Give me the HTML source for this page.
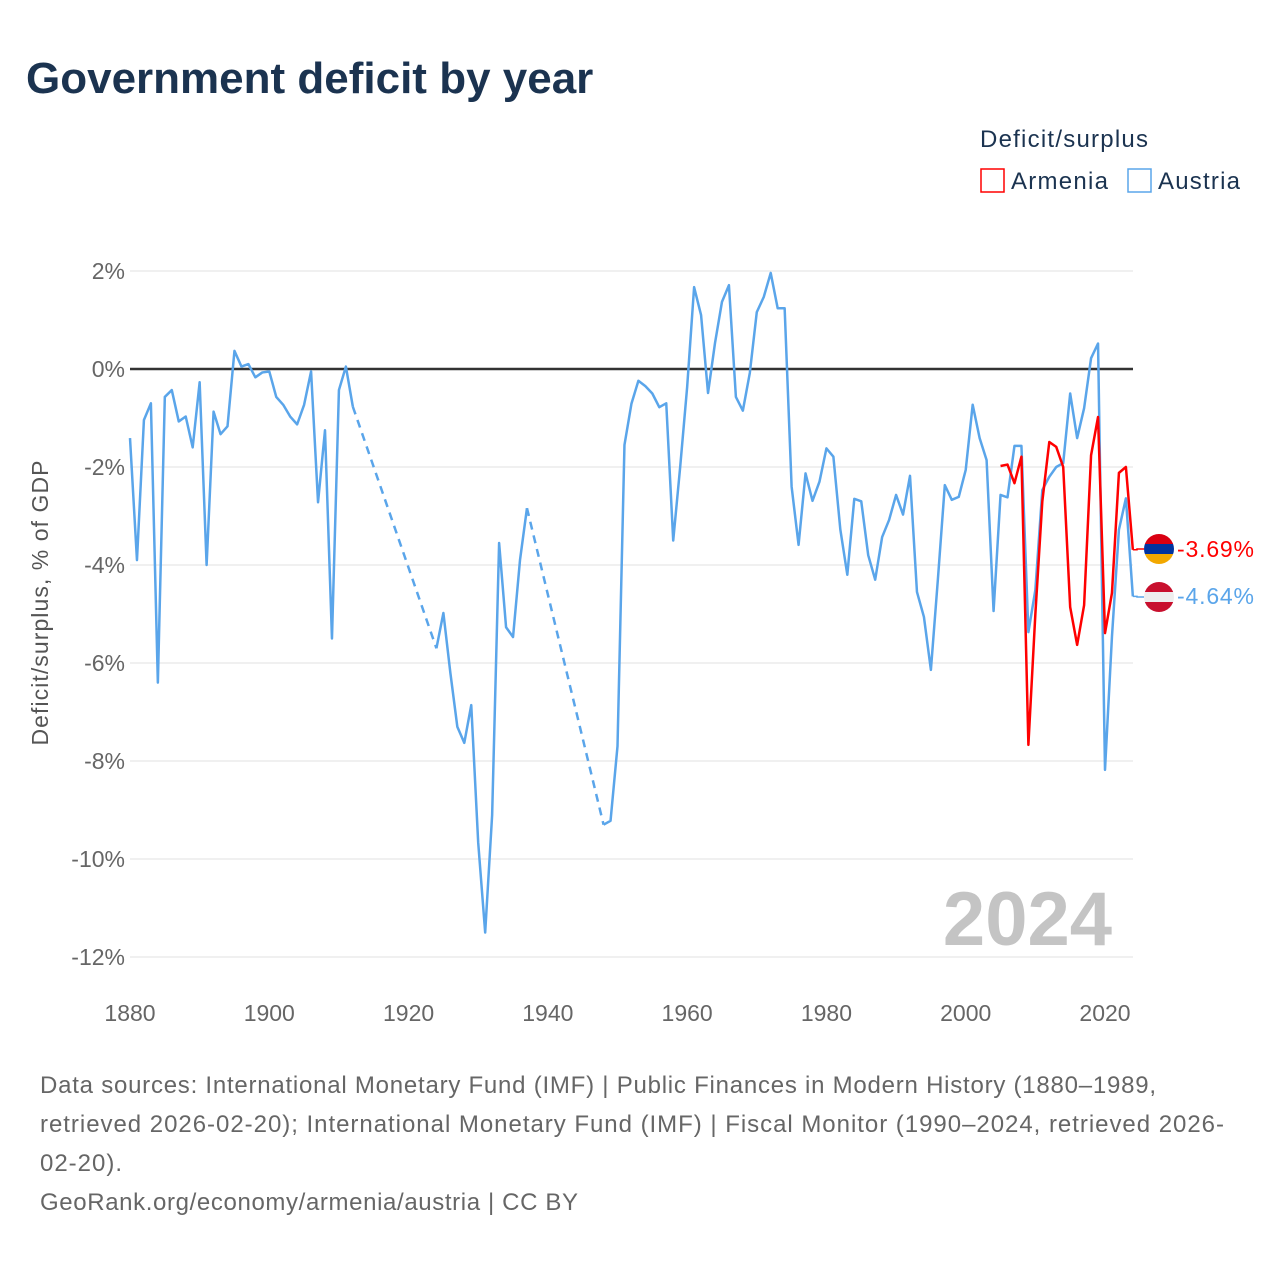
<!DOCTYPE html>
<html><head><meta charset="utf-8"><style>
body{margin:0;background:#fff;font-family:"Liberation Sans",sans-serif;}
svg text{font-family:"Liberation Sans",sans-serif;}
</style></head><body>
<svg id="chart" width="1280" height="1280" xmlns="http://www.w3.org/2000/svg">
<rect width="1280" height="1280" fill="#fff"/>
<text x="26" y="93" font-size="44" font-weight="bold" fill="#1b3350">Government deficit by year</text>
<text x="980" y="147" font-size="24" fill="#1b3350" textLength="168">Deficit/surplus</text>
<g><rect x="981" y="169" width="23" height="23" fill="none" stroke="#f00" stroke-width="1.5"/><text x="1011" y="189" font-size="24" fill="#1b3350" textLength="97">Armenia</text></g>
<g><rect x="1128" y="169" width="23" height="23" fill="none" stroke="#5aa5ea" stroke-width="1.5"/><text x="1158" y="189" font-size="24" fill="#1b3350" textLength="82">Austria</text></g>
<text transform="translate(48,603) rotate(-90)" text-anchor="middle" font-size="23" fill="#555" textLength="285">Deficit/surplus, % of GDP</text>
<g id="grid"></g>
<text x="1112" y="945" text-anchor="end" font-size="76" font-weight="bold" fill="#c4c4c4">2024</text>
<g id="series"></g>
<g>
<clipPath id="ca"><circle cx="1159" cy="549" r="15"/></clipPath>
<g clip-path="url(#ca)"><rect x="1144" y="534" width="30" height="10" fill="#d90012"/><rect x="1144" y="544" width="30" height="10" fill="#0033a0"/><rect x="1144" y="554" width="30" height="10" fill="#f2a800"/></g></g>
<g>
<clipPath id="cb"><circle cx="1159" cy="597" r="15"/></clipPath>
<g clip-path="url(#cb)"><rect x="1144" y="582" width="30" height="10" fill="#c8102e"/><rect x="1144" y="592" width="30" height="10" fill="#eee"/><rect x="1144" y="602" width="30" height="10" fill="#c8102e"/></g></g>
<text x="1177" y="557" font-size="23" fill="#f00" textLength="77">-3.69%</text>
<text x="1177" y="604" font-size="23" fill="#5aa5ea" textLength="77">-4.64%</text>
<g font-size="24" fill="#666">
<text x="40" y="1093" textLength="1116">Data sources: International Monetary Fund (IMF) | Public Finances in Modern History (1880–1989,</text>
<text x="40" y="1132" textLength="1184">retrieved 2026-02-20); International Monetary Fund (IMF) | Fiscal Monitor (1990–2024, retrieved 2026-</text>
<text x="40" y="1171" textLength="82">02-20).</text>
<text x="40" y="1210" textLength="538">GeoRank.org/economy/armenia/austria | CC BY</text>
</g>
</svg>
<script>
const yTicks=[2,0,-2,-4,-6,-8,-10,-12];
const xTicks=[1880,1900,1920,1940,1960,1980,2000,2020];
const austriaStart=1880;
const austriaValues=[-1.41,-3.9,-1.04,-0.7,-6.4,-0.57,-0.43,-1.07,-0.97,-1.6,-0.27,-4.0,-0.87,-1.33,-1.17,0.37,0.05,0.1,-0.17,-0.07,-0.05,-0.57,-0.73,-0.97,-1.13,-0.73,-0.05,-2.72,-1.25,-5.5,-0.43,0.05,-0.77,
null,null,null,null,null,null,null,null,null,null,null,
-5.7,-4.98,-6.2,-7.3,-7.63,-6.86,-9.67,-11.5,-9.1,-3.55,-5.27,-5.47,-3.9,-2.84,
null,null,null,null,null,null,null,null,null,null,
-9.3,-9.22,-7.7,-1.55,-0.71,-0.24,-0.35,-0.5,-0.78,-0.7,-3.5,-2.0,-0.37,1.67,1.1,-0.49,0.53,1.37,1.71,-0.57,-0.85,-0.08,1.16,1.47,1.96,1.24,1.24,-2.4,-3.59,-2.13,-2.69,-2.3,-1.62,-1.79,-3.28,-4.2,-2.65,-2.7,-3.8,-4.3,-3.43,-3.08,-2.57,-2.97,-2.18,-4.55,-5.06,-6.14,-4.3,-2.37,-2.67,-2.61,-2.06,-0.73,-1.41,-1.86,-4.94,-2.57,-2.62,-1.57,-1.57,-5.37,-4.51,-2.47,-2.2,-2.0,-1.92,-0.5,-1.41,-0.8,0.22,0.52,-8.18,-5.46,-3.28,-2.64,-4.64];
const armeniaStart=2005;
const armeniaValues=[-1.98,-1.95,-2.33,-1.79,-7.67,-5.0,-2.7,-1.49,-1.59,-2.0,-4.86,-5.63,-4.82,-1.76,-0.98,-5.39,-4.57,-2.12,-2.0,-3.69];
const X=yr=>130+(yr-1880)*(975/140);
const Y=v=>369-v*49;
const NS="http://www.w3.org/2000/svg";
const grid=document.getElementById('grid');
function mk(tag,attrs,parent){const e=document.createElementNS(NS,tag);for(const k in attrs)e.setAttribute(k,attrs[k]);parent.appendChild(e);return e;}
yTicks.forEach(t=>{
  const l=mk('line',{x1:130,x2:1133,y1:Y(t),y2:Y(t),stroke:t===0?'#333':'#e6e6e6','stroke-width':t===0?2.5:1.2},grid);
  
  
  const tx=mk('text',{x:125,y:Y(t)+8,'text-anchor':'end','font-size':23,fill:'#666'},grid);
  tx.textContent=t+'%';
  
  
});
xTicks.forEach(t=>{
  const tx=mk('text',{x:X(t),y:1021,'text-anchor':'middle','font-size':23,fill:'#666'},grid);
  tx.textContent=t;
  
  
});
const series=document.getElementById('series');
function draw(start,vals,color,name){
  const pts=vals.map((v,i)=>v===null?null:[X(start+i),Y(v)]);
  let segs=[],cur=[],last=null,gaps=[];
  pts.forEach(p=>{
    if(p===null){if(cur.length){segs.push(cur);cur=[];}return;}
    if(!cur.length&&last)gaps.push([last,p]);
    cur.push(p);last=p;
  });
  if(cur.length)segs.push(cur);
  segs.forEach(s=>{
    const pl=mk('polyline',{points:s.map(p=>p.join(',')).join(' '),fill:'none',stroke:color,'stroke-width':2.5,'stroke-linejoin':'round'},series);
    
    
  });
  gaps.forEach(g=>{
    const dl=mk('line',{x1:g[0][0],y1:g[0][1],x2:g[1][0],y2:g[1][1],stroke:color,'stroke-width':2.5,'stroke-dasharray':'8,6'},series);
    
    
  });
  return pts[pts.length-1];
}
const ea=draw(austriaStart,austriaValues,'#5aa5ea','austria');
const er=draw(armeniaStart,armeniaValues,'#f00','armenia');
const c1=mk('polyline',{points:`${er[0]},${er[1]} 1137,${er[1]} 1137,549 1144,549`,fill:'none',stroke:'#f00','stroke-width':1.5},series);


const c2=mk('polyline',{points:`${ea[0]},${ea[1]} 1137,${ea[1]} 1137,597 1144,597`,fill:'none',stroke:'#5aa5ea','stroke-width':1.5},series);


</script>
</body></html>
